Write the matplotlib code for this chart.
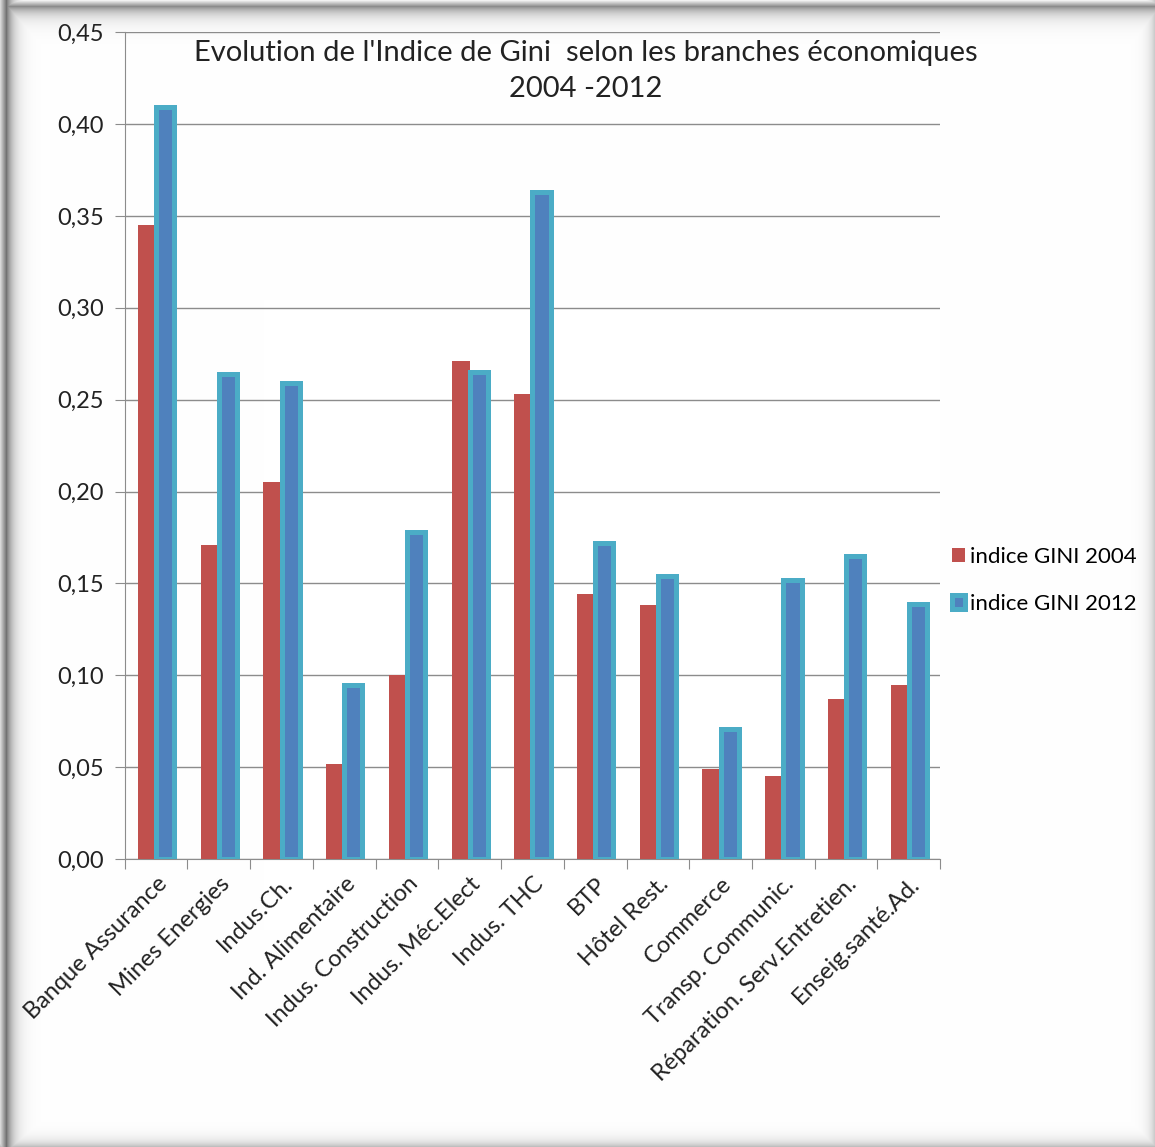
import numpy as np
import matplotlib.pyplot as plt
from matplotlib.ticker import FuncFormatter, FixedLocator

branches = ['Banque Assurance', 'Mines Energies', 'Indus.Ch.', 'Ind. Alimentaire',
            'Indus. Construction', 'Indus. Méc.Elect', 'Indus. THC', 'BTP',
            'Hôtel Rest.', 'Commerce', 'Transp. Communic.',
            'Réparation. Serv.Entretien.', 'Enseig.santé.Ad.']
gini_2004 = [0.345, 0.171, 0.205, 0.052, 0.100, 0.271, 0.253, 0.144, 0.138,
             0.049, 0.045, 0.087, 0.095]
gini_2012 = [0.409, 0.264, 0.259, 0.095, 0.178, 0.265, 0.363, 0.172, 0.154,
             0.071, 0.152, 0.165, 0.139]

plt.rcParams['font.family'] = ['Lato', 'DejaVu Sans']

W, H = 1155, 1147
fig = plt.figure(figsize=(W / 100, H / 100), dpi=100)

# soft shadow frame, drawn as a background image
bg_ax = fig.add_axes([0, 0, 1, 1], zorder=-5)
xx = np.arange(W)[None, :].astype(float) * np.ones((H, 1))
yy = np.arange(H)[:, None].astype(float) * np.ones((1, W))
left = np.where(xx >= 6, 0.55 * np.exp(-(xx - 6) / 7.0), 0.15 + 0.4 * xx / 6)
top = np.where(yy >= 6, 0.45 * np.exp(-(yy - 6) / 8.0), 0.05 + 0.4 * yy / 6)
top = np.where(xx < 8, 0, top)
right = 0.2 * np.exp(-(W - 1 - xx) / 6.0)
bottom = 0.25 * np.exp(-(H - 1 - yy) / 6.0)
shade = np.maximum.reduce([left, top, right, bottom])
img = np.dstack([1 - shade] * 3)
bg_ax.imshow(img, aspect='auto', interpolation='nearest')
bg_ax.axis('off')

ax = fig.add_axes([0.108, 0.251, 0.706, 0.721])
ax.patch.set_alpha(0)
x = np.arange(len(branches))
w = 0.29
ax.bar(x - w / 2, gini_2004, w, color='#C0504D', label='indice GINI 2004', zorder=3)
ax.bar(x + w / 2, gini_2012, w, color='#4F81BD', edgecolor='#4BACC6', linewidth=3.6,
       label='indice GINI 2012', zorder=4)

ax.set_xlim(-0.5, len(branches) - 0.5)
ax.set_ylim(0, 0.45)
ax.set_yticks(np.arange(0, 0.451, 0.05))
ax.yaxis.set_major_formatter(FuncFormatter(lambda v, p: f'{v:.2f}'.replace('.', ',')))
ax.grid(axis='y', color='#8c8c8c', lw=1.0, zorder=0)
for s in ['top', 'right']:
    ax.spines[s].set_visible(False)
ax.spines['left'].set_color('#8c8c8c')
ax.spines['bottom'].set_color('#8c8c8c')
ax.tick_params(axis='y', labelsize=17, length=7, color='#8c8c8c', labelcolor='#222222', pad=8)

ax.xaxis.set_major_locator(FixedLocator(np.arange(-0.5, len(branches))))
ax.set_xticklabels([])
ax.tick_params(axis='x', length=7, color='#8c8c8c')
ax.set_xticks(x, minor=True)
ax.set_xticklabels(branches, minor=True, rotation=45, ha='right', va='top',
                   rotation_mode='anchor', fontsize=17, color='#222222')
ax.tick_params(axis='x', which='minor', length=0, pad=10)

fig.text(0.507, 0.965, "Evolution de l'Indice de Gini  selon les branches économiques\n2004 -2012",
         ha='center', va='top', fontsize=21, linespacing=1.45, color='#222222')

ax.legend(loc='center left', bbox_to_anchor=(0.99, 0.337), frameon=False, fontsize=16,
          handlelength=0.6, handleheight=0.6, handletextpad=0.2, labelspacing=1.2)

fig.savefig('out.png', dpi=100)
